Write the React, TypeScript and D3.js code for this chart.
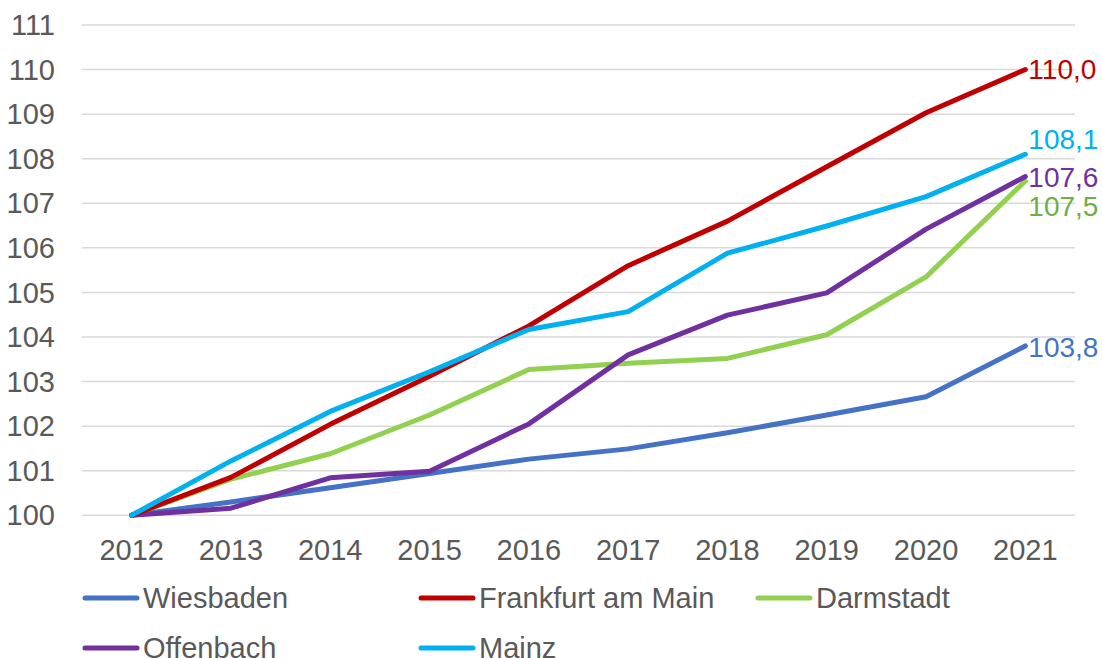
import React, { useEffect, useRef } from 'react';
import * as d3 from 'd3';

const years = ['2012', '2013', '2014', '2015', '2016', '2017', '2018', '2019', '2020', '2021'];
const wiesbaden = [100, 100.3, 100.62, 100.94, 101.26, 101.49, 101.85, 102.25, 102.66, 103.8];
const frankfurt = [100, 100.85, 102.04, 103.12, 104.25, 105.6, 106.6, 107.82, 109.03, 110.0];
const darmstadt = [100, 100.81, 101.38, 102.25, 103.27, 103.41, 103.52, 104.05, 105.35, 107.5];
const offenbach = [100, 100.16, 100.84, 100.99, 102.05, 103.6, 104.49, 104.99, 106.42, 107.6];
const mainz = [100, 101.22, 102.33, 103.22, 104.17, 104.57, 105.88, 106.49, 107.15, 108.1];
const yTicks = [100, 101, 102, 103, 104, 105, 106, 107, 108, 109, 110, 111];

const series = [
    { name: 'Wiesbaden', values: wiesbaden, color: '#4472C4', labelColor: '#4472C4', dy: 1.5 },
    { name: 'Frankfurt am Main', values: frankfurt, color: '#C00000', labelColor: '#C00000', dy: 0 },
    { name: 'Darmstadt', values: darmstadt, color: '#92D050', labelColor: '#70AD47', dy: 25 },
    { name: 'Offenbach', values: offenbach, color: '#7030A0', labelColor: '#7030A0', dy: 1 },
    { name: 'Mainz', values: mainz, color: '#00B0F0', labelColor: '#00B0F0', dy: -15 },
];

const W = 1102;
const H = 658;
const font = '"Liberation Sans", Arial, sans-serif';

const App = () => {
    const svgRef = useRef<SVGSVGElement>(null);

    useEffect(() => {
        const svg = d3.select(svgRef.current);
        svg.selectAll('*').remove();

        const x = d3.scaleBand().domain(years).range([82, 1075]);
        const y = d3.scaleLinear().domain([100, 111]).range([515.3, 25]);
        const cx = (d: string) => (x(d) as number) + x.bandwidth() / 2;

        // gridlines
        svg.append('g')
            .selectAll('line')
            .data(yTicks)
            .join('line')
            .attr('x1', 82)
            .attr('x2', 1075)
            .attr('y1', d => y(d))
            .attr('y2', d => y(d))
            .attr('stroke', '#D9D9D9')
            .attr('stroke-width', 1.5);

        // y tick labels
        svg.append('g')
            .selectAll('text')
            .data(yTicks)
            .join('text')
            .attr('x', 55)
            .attr('y', d => y(d))
            .attr('dy', '0.35em')
            .attr('text-anchor', 'end')
            .attr('fill', '#595959')
            .style('font', `29px ${font}`)
            .text(d => d);

        // x tick labels
        svg.append('g')
            .selectAll('text')
            .data(years)
            .join('text')
            .attr('x', d => cx(d))
            .attr('y', 550)
            .attr('dy', '0.35em')
            .attr('text-anchor', 'middle')
            .attr('fill', '#595959')
            .style('font', `29px ${font}`)
            .text(d => d);

        const line = d3.line<number>()
            .x((_, i) => cx(years[i]))
            .y(d => y(d));

        // draw order similar to the reference (Mainz on top)
        const order = [0, 2, 3, 1, 4];
        order.forEach(i => {
            const s = series[i];
            svg.append('path')
                .datum(s.values)
                .attr('d', line)
                .attr('fill', 'none')
                .attr('stroke', s.color)
                .attr('stroke-width', 5)
                .attr('stroke-linejoin', 'round')
                .attr('stroke-linecap', 'round');
        });

        // end labels
        series.forEach(s => {
            const last = s.values[s.values.length - 1];
            svg.append('text')
                .attr('x', cx(years[years.length - 1]) + 3)
                .attr('y', y(last) + s.dy)
                .attr('dy', '0.35em')
                .attr('fill', s.labelColor)
                .style('font', `28px ${font}`)
                .text(d3.format('.1f')(last).replace('.', ','));
        });

        // legend
        const legendPos = [
            { x: 83, y: 598 },
            { x: 419, y: 598 },
            { x: 756, y: 598 },
            { x: 83, y: 648 },
            { x: 419, y: 648 },
        ];
        const lg = svg.append('g')
            .selectAll('g')
            .data(series)
            .join('g')
            .attr('transform', (_, i) => `translate(${legendPos[i].x},${legendPos[i].y})`);
        lg.append('line')
            .attr('x1', 2)
            .attr('x2', 54)
            .attr('stroke', d => d.color)
            .attr('stroke-width', 5)
            .attr('stroke-linecap', 'round');
        lg.append('text')
            .attr('x', 60)
            .attr('dy', '0.35em')
            .attr('fill', '#595959')
            .style('font', `29px ${font}`)
            .text(d => d.name);
    }, []);

    return <svg ref={svgRef} width={W} height={H} style={{ position: 'absolute', left: 0, top: 0, background: '#fff' }} />;
};

export default App;
